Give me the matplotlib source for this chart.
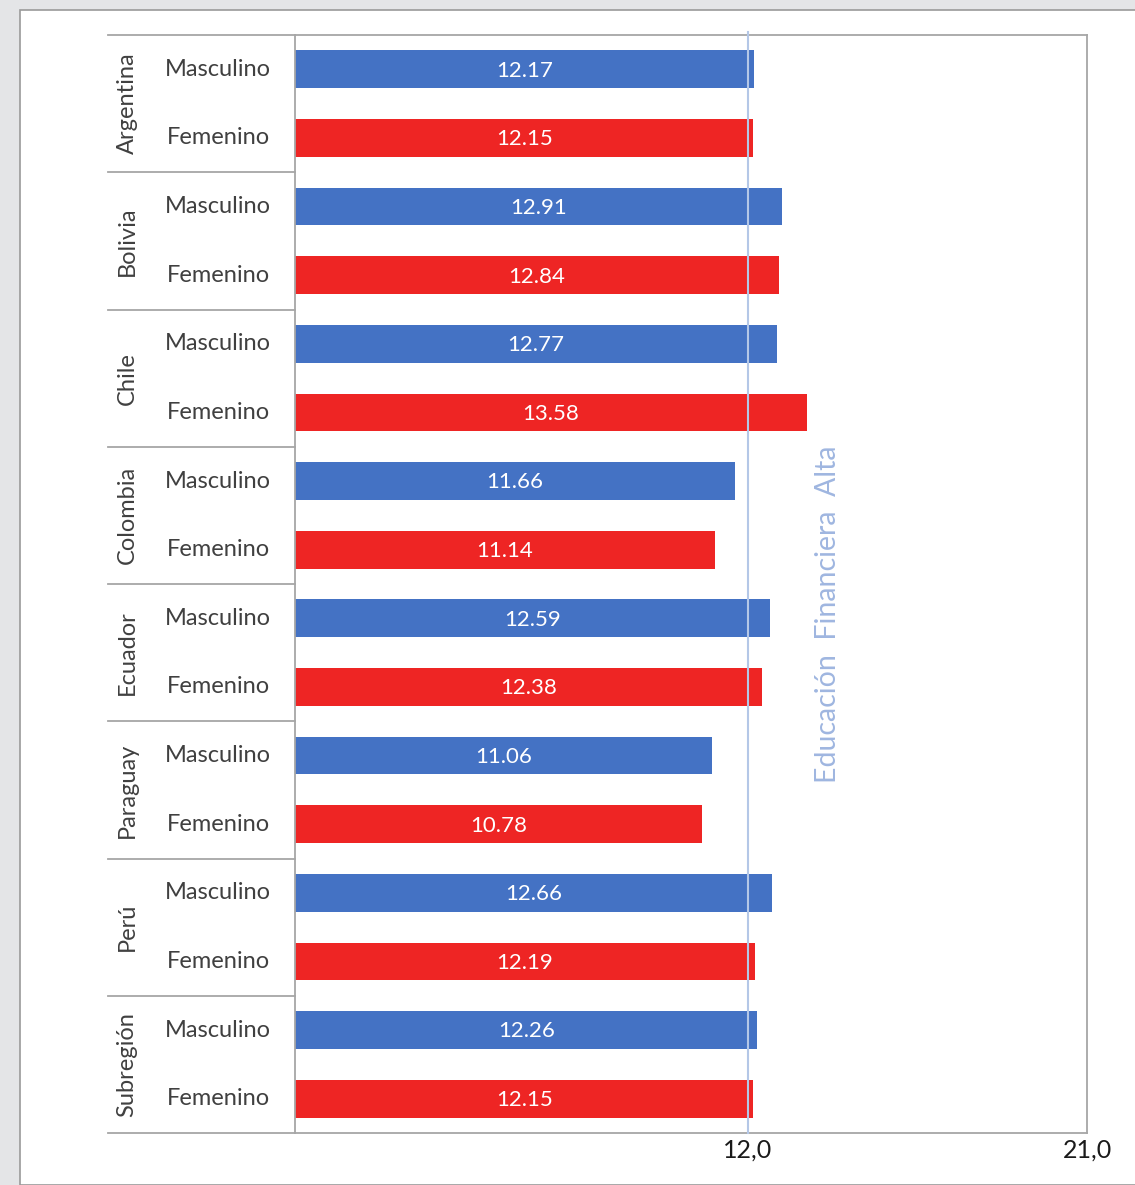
import matplotlib
matplotlib.use("Agg")
import matplotlib.pyplot as plt
from matplotlib.patches import Rectangle
import matplotlib.transforms as mtransforms

plt.rcParams['font.family'] = ['Lato', 'DejaVu Sans']

countries = ["Argentina", "Bolivia", "Chile", "Colombia", "Ecuador",
             "Paraguay", "Perú", "Subregión"]
genders = ["Masculino", "Femenino"]
masculino = [12.17, 12.91, 12.77, 11.66, 12.59, 11.06, 12.66, 12.26]
femenino = [12.15, 12.84, 13.58, 11.14, 12.38, 10.78, 12.19, 12.15]
threshold = 12.0
threshold_label = "Educación  Financiera  Alta"
xticks = [12.0, 21.0]
xtick_labels = ["12,0", "21,0"]

W, H = 1135, 1185
fig = plt.figure(figsize=(W / 100, H / 100), dpi=100, facecolor="#e4e5e7")

# white page panel, drawn beneath the chart
fig.patches.append(Rectangle((20 / W, 0), 1.2, 1 - 10 / H, transform=fig.transFigure,
                             facecolor="white", edgecolor="#9a9a9a", linewidth=1.2,
                             zorder=-10))

left, right, top, bottom = 295, 1087, 35, 1133
ax = fig.add_axes([left / W, 1 - bottom / H, (right - left) / W, (bottom - top) / H])
ax.set_facecolor("white")

blue = "#4472c4"
red = "#ee2524"
bar_h = 0.55

for i, (c, m, f) in enumerate(zip(countries, masculino, femenino)):
    ym, yf = 2 * i, 2 * i + 1
    ax.barh(ym, m, height=bar_h, color=blue, zorder=2)
    ax.barh(yf, f, height=bar_h, color=red, zorder=2)
    ax.text(m / 2, ym + 0.02, f"{m:.2f}", color="white", ha="center", va="center",
            fontsize=16, zorder=4)
    ax.text(f / 2, yf + 0.02, f"{f:.2f}", color="white", ha="center", va="center",
            fontsize=16, zorder=4)

n = 2 * len(countries)
ax.set_xlim(0, 21)
ax.set_ylim(n - 0.5, -0.5)

ax.axvline(threshold, ymin=0, ymax=1.003, color="#b4c7e7", linewidth=1.5,
           zorder=3, clip_on=False)
ax.text(14.13, 0.4727, threshold_label, transform=mtransforms.blended_transform_factory(
    ax.transData, ax.transAxes), rotation=90, ha="center", va="center",
    color="#9fb6e0", fontsize=20.5)

# axis styling
for s in ax.spines.values():
    s.set_color("#a6a6a6")
    s.set_linewidth(1.3)
ax.set_yticks([])
ax.set_xticks(xticks)
ax.set_xticklabels(xtick_labels, fontsize=18, color="#1a1a1a")
ax.tick_params(axis="x", length=0, pad=4)

# two-level category axis on the left
trans = mtransforms.blended_transform_factory(ax.transAxes, ax.transData)
x_sep = (108 - left) / (right - left)
x_country = (127 - left) / (right - left)
x_gender = (218 - left) / (right - left)
for i, c in enumerate(countries):
    ax.text(x_country, 2 * i + 0.5, c, transform=trans, rotation=90,
            ha="center", va="center", fontsize=17, color="#404040")
    for j, g in enumerate(genders):
        ax.text(x_gender, 2 * i + j, g, transform=trans, ha="center",
                va="center", fontsize=17, color="#404040")
for k in range(len(countries) + 1):
    y = 2 * k - 0.5
    ax.plot([x_sep, 0], [y, y], transform=trans, color="#a6a6a6",
            linewidth=1.3, clip_on=False)

fig.savefig("out.png", dpi=100, facecolor=fig.get_facecolor())
